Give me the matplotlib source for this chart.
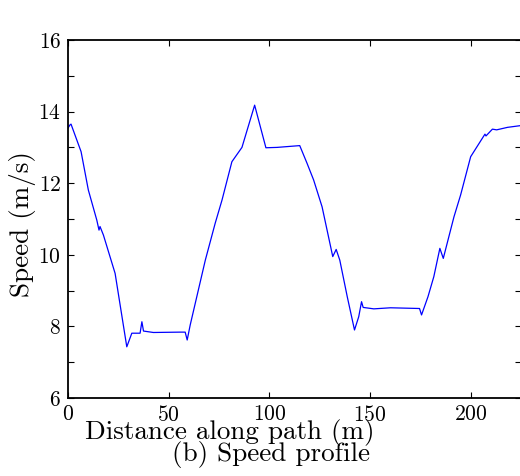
#!/usr/bin/env python3
"""Speed profile along the path (panel b)."""

import matplotlib
matplotlib.use("Agg")
import matplotlib.pyplot as plt
from matplotlib.ticker import MultipleLocator

# distance along path (m) and speed (m/s)
distance = [0.0, 1.0, 1.5, 6.5, 10.1, 14.3, 15.4, 15.9, 17.6, 23.4, 29.2,
            31.7, 35.8, 36.7, 37.5, 42.4, 55.7, 58.2, 59.2, 60.7, 68.2,
            73.1, 76.5, 81.4, 86.4, 92.7, 98.3, 103.8, 115.1, 118.7, 122.0,
            126.2, 131.5, 133.2, 135.0, 138.7, 142.3, 144.4, 145.8, 146.6,
            151.9, 160.2, 174.6, 175.6, 178.8, 181.7, 184.7, 186.4, 191.7,
            195.0, 200.0, 206.3, 207.1, 207.6, 210.8, 212.9, 218.3, 225.0]
speed = [13.54, 13.63, 13.65, 12.88, 11.81, 10.97, 10.69, 10.79, 10.55,
         9.48, 7.43, 7.81, 7.81, 8.13, 7.87, 7.83, 7.84, 7.84, 7.62, 8.04,
         9.85, 10.88, 11.53, 12.60, 13.00, 14.18, 12.99, 13.00, 13.05,
         12.56, 12.09, 11.34, 9.95, 10.15, 9.85, 8.83, 7.90, 8.27, 8.69,
         8.53, 8.49, 8.52, 8.50, 8.32, 8.83, 9.39, 10.18, 9.90, 11.06,
         11.67, 12.74, 13.30, 13.37, 13.32, 13.51, 13.49, 13.56, 13.61]

x_ticks = [0, 50, 100, 150, 200]
y_ticks = [6, 8, 10, 12, 14, 16]

plt.rcParams["font.family"] = "serif"
plt.rcParams["font.serif"] = ["cmr10"]
plt.rcParams["axes.formatter.use_mathtext"] = True

fig = plt.figure(figsize=(5.2, 4.76), dpi=100)
W, H = 520.0, 476.0
ax = fig.add_axes([68 / W, 1 - 398 / H, (521 - 68) / W, (398 - 40) / H])

ax.plot(distance, speed, color="#0000ff", linewidth=0.9)

ax.set_xlim(0, 225)
ax.set_ylim(6, 16)
ax.set_xticks(x_ticks)
ax.set_yticks(y_ticks)
ax.yaxis.set_minor_locator(MultipleLocator(1))
ax.tick_params(which="both", direction="in", top=True, right=True,
               length=4, width=0.8, labelsize=15.5, pad=5)
for spine in ax.spines.values():
    spine.set_linewidth(1.3)

fig.text(23 / W, 1 - 224 / H, "Speed (m/s)", rotation=90,
         ha="center", va="center", fontsize=19.5)
fig.text(230 / W, 1 - 432 / H, "Distance along path (m)",
         ha="center", va="center", fontsize=19.5)
fig.text(271 / W, 1 - 455 / H, "(b) Speed profile",
         ha="center", va="center", fontsize=19.5)

fig.savefig("out.png", dpi=100)
